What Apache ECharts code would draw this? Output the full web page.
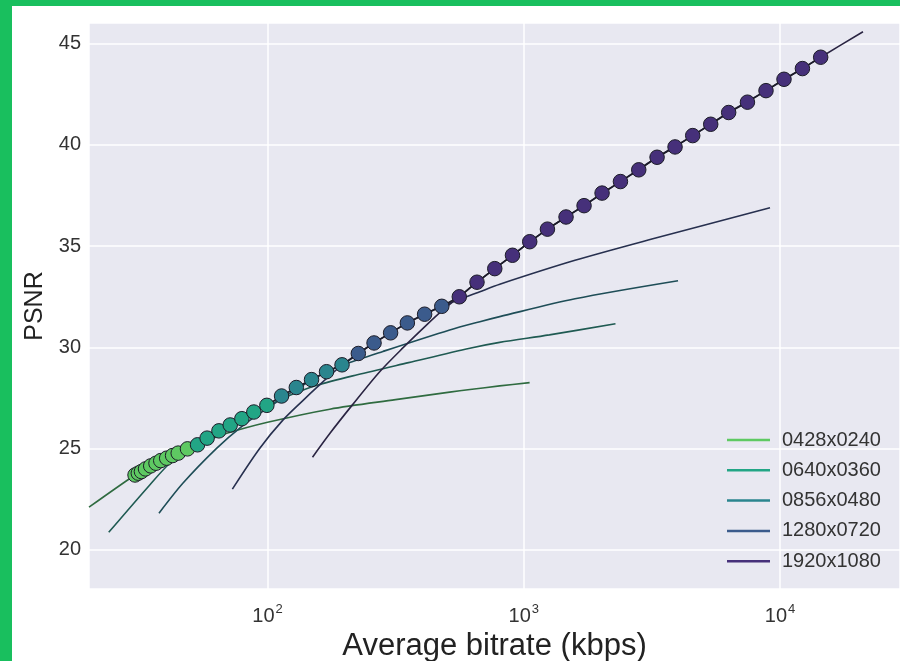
<!DOCTYPE html>
<html>
<head>
<meta charset="utf-8">
<script src="https://cdn.jsdelivr.net/npm/echarts@6/dist/echarts.min.js"></script>
<style>
  html, body { margin: 0; padding: 0; background: #19bf5e; }
  #chart { position: absolute; left: 12px; top: 6px; width: 888px; height: 655px; background: #fff; }
</style>
</head>
<body>
<div id="chart"></div>
<script>
// resolutions (legend order)
const resNames = ['0428x0240', '0640x0360', '0856x0480', '1280x0720', '1920x1080'];

// rate-distortion curves, bitrate in kbps / PSNR in dB
const rate0428 = [20.1, 30.4, 35.0, 40.4, 48.7, 58.9, 67.8, 100, 175, 316, 514, 617, 805, 1054];
const psnr0428 = [22.11, 23.70, 24.15, 24.53, 24.99, 25.42, 25.72, 26.3, 26.95, 27.42, 27.79, 27.92, 28.10, 28.26];

const rate0640 = [24.0, 34.7, 41.6, 52.5, 64.6, 71.5, 88.4, 99.3, 123, 155, 224, 355, 616, 805, 1259, 2280];
const psnr0640 = [20.87, 23.21, 24.28, 25.2, 25.85, 26.17, 26.78, 27.10, 27.65, 28.12, 28.65, 29.25, 29.96, 30.25, 30.62, 31.17];

const rate0856 = [37.7, 46.8, 63.1, 79.4, 100, 126, 148.5, 169.9, 195.3, 282, 514, 674, 806, 1585, 4000];
const psnr0856 = [21.81, 23.3, 25.0, 26.1, 27.0, 27.85, 28.38, 28.78, 29.12, 29.8, 30.86, 31.27, 31.52, 32.4, 33.29];

const rate1280 = [72.9, 93.3, 115, 138, 155, 186, 226, 260, 302, 351, 410, 479, 674, 806, 1585, 3162, 9141];
const psnr1280 = [23.0, 25.02, 26.42, 27.4, 28.0, 28.9, 29.70, 30.22, 30.72, 31.21, 31.64, 32.03, 32.75, 33.12, 34.3, 35.35, 36.9];

const rate1920 = [149.8, 175, 214, 274, 339, 417, 479, 560, 657, 903, 1237, 1719, 2384, 3313, 4564, 6305, 8818, 12232, 14414, 21080];
const psnr1920 = [24.58, 25.75, 27.15, 28.8, 30.0, 31.1, 31.8, 32.50, 33.22, 34.55, 35.84, 37.00, 38.19, 39.39, 40.46, 41.60, 42.68, 43.77, 44.33, 45.59];

// convex hull points and the resolution each one comes from
const hullRate = [30.4, 31.3, 32.2, 33.4, 35.0, 36.7, 38.3, 40.4, 42.6, 44.8, 48.7, 53.3, 58.1, 64.6, 71.5, 79.4, 88.4, 99.4, 113.4, 129.5,
  148.5, 169.9, 195.3, 226.1, 260.4, 302.2, 351.3, 410.2, 478.7, 560.2, 656.8, 770.6, 903.4, 1055, 1237, 1462, 1719, 2021, 2384, 2810,
  3313, 3894, 4564, 5366, 6305, 7463, 8818, 10366, 12232, 14414];
const hullPsnr = [23.70, 23.79, 23.87, 24.00, 24.15, 24.28, 24.41, 24.53, 24.66, 24.78, 24.99, 25.19, 25.52, 25.88, 26.17, 26.48, 26.81, 27.14, 27.60, 28.02,
  28.41, 28.80, 29.14, 29.70, 30.22, 30.72, 31.21, 31.64, 32.03, 32.50, 33.22, 33.89, 34.55, 35.22, 35.84, 36.44, 37.00, 37.62, 38.19, 38.77,
  39.39, 39.90, 40.46, 41.02, 41.60, 42.11, 42.68, 43.24, 43.77, 44.33];
const hullRes = [0, 0, 0, 0, 0, 0, 0, 0, 0, 0, 0, 1, 1, 1, 1, 1, 1, 1, 2, 2,
  2, 2, 2, 3, 3, 3, 3, 3, 3, 4, 4, 4, 4, 4, 4, 4, 4, 4, 4, 4,
  4, 4, 4, 4, 4, 4, 4, 4, 4, 4];

const rates = [rate0428, rate0640, rate0856, rate1280, rate1920];
const psnrs = [psnr0428, psnr0640, psnr0856, psnr1280, psnr1920];

const palette = ['#5ec962', '#22a585', '#2a858e', '#3b5b8c', '#46307a'];
const curveColors = ['#2f6b40', '#1f5a52', '#1e4d57', '#27304f', '#2a2442'];
const font = 'Liberation Sans, Arial, sans-serif';

const chart = echarts.init(document.getElementById('chart'));

const series = resNames.map((name, k) => ({
  name: name,
  type: 'line',
  data: rates[k].map((r, i) => [r, psnrs[k][i]]),
  showSymbol: false,
  smooth: 0.3,
  lineStyle: { color: curveColors[k], width: 1.6 },
  itemStyle: { color: palette[k] },
  z: 2
}));

series.push({
  name: 'hull',
  type: 'line',
  data: hullRate.map((r, i) => ({
    value: [r, hullPsnr[i]],
    itemStyle: { color: palette[hullRes[i]], borderColor: '#1c1c28', borderWidth: 1 }
  })),
  symbol: 'circle',
  symbolSize: 14.5,
  lineStyle: { color: '#1c1c28', width: 1.6 },
  z: 3
});

chart.setOption({
  animation: false,
  grid: {
    left: 77, top: 17, right: 0, bottom: 72,
    outerBoundsMode: 'none',
    show: true, backgroundColor: '#e8e8f1', borderWidth: 0
  },
  legend: {
    orient: 'vertical',
    left: 710,
    top: 419,
    icon: 'rect',
    itemWidth: 43,
    itemHeight: 2.5,
    itemGap: 10.3,
    textStyle: { fontFamily: font, fontSize: 20, color: '#333', lineHeight: 20, padding: [0, 0, 0, 7] },
    data: resNames.map((n, k) => ({ name: n, itemStyle: { color: palette[k] } }))
  },
  xAxis: {
    type: 'log',
    logBase: 10,
    min: 20.1,
    max: 29400,
    name: 'Average bitrate (kbps)',
    nameLocation: 'middle',
    nameGap: 39,
    nameTextStyle: { fontFamily: font, fontSize: 31, color: '#222' },
    axisLine: { show: false },
    axisTick: { show: false },
    splitLine: { lineStyle: { color: '#fff', width: 1.5 } },
    axisLabel: {
      showMinLabel: false,
      showMaxLabel: false,
      margin: 14,
      formatter: function (v) {
        const e = Math.round(Math.log10(v));
        if (Math.abs(Math.log10(v) - e) > 1e-6) return '';
        return '{b|10}{s|' + e + '}';
      },
      rich: {
        b: { fontFamily: font, fontSize: 20, color: '#333' },
        s: { fontFamily: font, fontSize: 13, color: '#333', padding: [0, 0, 14, 1] }
      }
    }
  },
  yAxis: {
    type: 'value',
    min: 18.07,
    max: 46.02,
    name: 'PSNR',
    nameLocation: 'middle',
    nameGap: 28,
    nameTextStyle: { fontFamily: font, fontSize: 25, color: '#222' },
    axisLine: { show: false },
    axisTick: { show: false },
    splitLine: { lineStyle: { color: '#fff', width: 1.5 } },
    axisLabel: {
      showMinLabel: false,
      showMaxLabel: false,
      margin: 8,
      fontFamily: font,
      fontSize: 20,
      color: '#333'
    }
  },
  series: series
});
</script>
</body>
</html>
